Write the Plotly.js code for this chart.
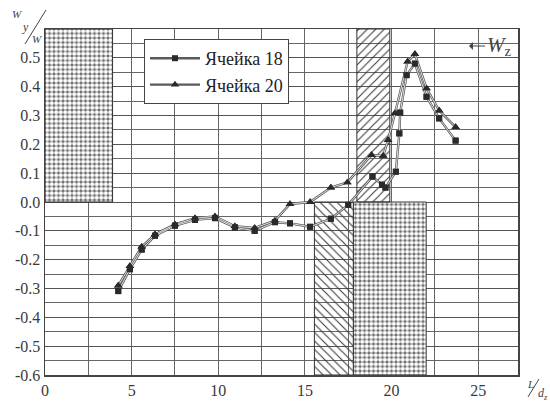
<!DOCTYPE html>
<html><head><meta charset="utf-8">
<script src="https://cdn.plot.ly/plotly-3.0.1.min.js"></script>
<style>html,body{margin:0;padding:0;background:#fff}#chart{width:550px;height:403px}</style>
</head><body><div id="chart"></div>
<script>
// Series data (L/dz, Wy/W)
const cell18X = [4.23, 4.9, 5.58, 6.35, 7.5, 8.66, 9.81, 10.96, 12.1, 13.27, 14.14, 15.3, 16.5, 17.5, 18.9, 19.45, 19.65, 20.25, 20.45, 20.5, 20.87, 21.35, 22.02, 22.75, 23.7];
const cell18Y = [-0.309, -0.233, -0.165, -0.117, -0.082, -0.062, -0.056, -0.088, -0.1, -0.07, -0.074, -0.086, -0.058, -0.01, 0.088, 0.06, 0.05, 0.105, 0.238, 0.31, 0.44, 0.48, 0.365, 0.29, 0.213];
const cell20X = [4.23, 4.9, 5.58, 6.35, 7.5, 8.66, 9.81, 10.96, 12.1, 13.27, 14.14, 15.3, 16.5, 17.45, 18.85, 19.52, 19.8, 20.2, 20.93, 21.35, 22.02, 22.75, 23.7];
const cell20Y = [-0.29, -0.222, -0.155, -0.112, -0.078, -0.056, -0.05, -0.084, -0.09, -0.065, -0.007, 0.0, 0.05, 0.068, 0.163, 0.16, 0.215, 0.308, 0.487, 0.513, 0.394, 0.317, 0.26];
const seriesNames = ["Ячейка 18", "Ячейка 20"];

// Hatched zones
const zoneX0 = [0, 15.55, 17.8, 18.0];
const zoneX1 = [3.9, 17.8, 22.0, 19.9];
const zoneY0 = [0, -0.6, -0.6, 0];
const zoneY1 = [0.6, 0, 0, 0.6];
const zoneKind = ["dots", "back", "dots", "fwd"];

// Axis ticks
const xTicks = [0, 5, 10, 15, 20, 25];
const xTickText = ["0", "5", "10", "15", "20", "25"];
const yTicks = [-0.6, -0.5, -0.4, -0.3, -0.2, -0.1, 0, 0.1, 0.2, 0.3, 0.4, 0.5];
const yTickText = ["-0.6", "-0.5", "-0.4", "-0.3", "-0.2", "-0.1", "0.0", "0.1", "0.2", "0.3", "0.4", "0.5"];

const serif = "Liberation Serif, Times New Roman, serif";
const traces = [];

zoneKind.forEach((k, i) => {
  let marker;
  if (k === "dots") {
    marker = {color: "#ffffff", line: {color: "#333", width: 1},
      pattern: {shape: ".", fillmode: "replace", bgcolor: "#666666", fgcolor: "#ffffff", size: 4.5, solidity: 0.65}};
  } else {
    marker = {color: "#3a3a3a", line: {color: "#333", width: 1},
      pattern: {shape: k === "fwd" ? "/" : "\\", fillmode: "replace", size: 6, solidity: 0.18}};
  }
  traces.push({
    type: "bar", x: [(zoneX0[i] + zoneX1[i]) / 2], width: [zoneX1[i] - zoneX0[i]],
    base: [zoneY0[i]], y: [zoneY1[i] - zoneY0[i]], marker: marker,
    showlegend: false, hoverinfo: "skip"
  });
});

const sets = [[cell18X, cell18Y, "square", 6], [cell20X, cell20Y, "triangle-up", 7.5]];
sets.forEach((s, i) => {
  traces.push({type: "scatter", mode: "lines+markers", x: s[0], y: s[1], name: seriesNames[i],
    line: {color: "#5a5a5a", width: 2.4},
    marker: {symbol: s[2], size: s[3], color: "#2a2a2a"}, legendrank: i});
});
sets.forEach((s) => {
  traces.push({type: "scatter", mode: "lines", x: s[0], y: s[1], showlegend: false,
    line: {color: "#ffffff", width: 0.8}, hoverinfo: "skip"});
});
sets.forEach((s) => {
  traces.push({type: "scatter", mode: "markers", x: s[0], y: s[1], showlegend: false,
    marker: {symbol: s[2], size: s[3], color: "#2a2a2a"}, hoverinfo: "skip"});
});

const L = 45, R = 518, T = 29, B = 375;
const px = v => (v - L) / (R - L);
const py = v => 1 - (v - T) / (B - T);
const ann = (x, y, text, size) => ({xref: "paper", yref: "paper", x: px(x), y: py(y), text: text,
  showarrow: false, xanchor: "center", yanchor: "middle", font: {family: serif, size: size, color: "#444"}});

const layout = {
  width: 550, height: 403,
  margin: {l: L, r: 550 - R, t: T, b: 403 - B},
  paper_bgcolor: "#fff", plot_bgcolor: "#fff",
  barmode: "overlay", bargap: 0,
  showlegend: true,
  legend: {x: px(144), y: py(39), xanchor: "left", yanchor: "top", bgcolor: "#fff",
    bordercolor: "#444", borderwidth: 1, font: {family: serif, size: 18, color: "#222"},
    itemwidth: 50, traceorder: "normal"},
  xaxis: {range: [0, 27.3], tickmode: "array", tickvals: xTicks, ticktext: xTickText,
    showgrid: true, gridcolor: "#666", gridwidth: 1, zeroline: false,
    minor: {dtick: 2.5, tick0: 0, showgrid: true, gridcolor: "#666", gridwidth: 1},
    showline: true, mirror: true, linecolor: "#444", linewidth: 1.5,
    ticks: "", tickfont: {family: serif, size: 16, color: "#3a3a3a"}},
  yaxis: {range: [-0.6, 0.6], tickmode: "array", tickvals: yTicks, ticktext: yTickText,
    showgrid: true, gridcolor: "#555", gridwidth: 1, zeroline: false,
    minor: {dtick: 0.05, tick0: 0, showgrid: true, gridcolor: "#666", gridwidth: 1},
    showline: true, mirror: true, linecolor: "#444", linewidth: 1.5,
    ticks: "", tickfont: {family: serif, size: 16, color: "#3a3a3a"}},
  shapes: [
    {type: "rect", xref: "paper", yref: "paper", layer: "between",
      x0: px(467), x1: px(516.5), y0: py(63), y1: py(30.5), fillcolor: "#fff", line: {width: 0}},
    {type: "line", xref: "paper", yref: "paper", x0: px(46), y0: py(10), x1: px(25), y1: py(44),
      line: {color: "#444", width: 1}},
    {type: "line", xref: "paper", yref: "paper", x0: px(539), y0: py(379), x1: px(528), y1: py(397),
      line: {color: "#444", width: 1}}
  ],
  annotations: [
    {xref: "paper", yref: "paper", x: px(469), y: py(46), ax: 30, ay: 0,
      text: "<i>W</i><sub>z</sub>", showarrow: true, arrowhead: 1, arrowsize: 1.1, arrowwidth: 1.2,
      arrowcolor: "#444", standoff: 0, font: {family: serif, size: 21, color: "#444"}},
    ann(17, 14, "<i>W</i>", 11),
    ann(25, 27, "<i>y</i>", 12),
    ann(37, 39, "<i>W</i>", 11),
    ann(530, 384, "<i>L</i>", 11),
    ann(543, 394, "<i>d<sub>z</sub></i>", 12)
  ]
};

Plotly.newPlot("chart", traces, layout, {displayModeBar: false, staticPlot: true});
</script></body></html>
